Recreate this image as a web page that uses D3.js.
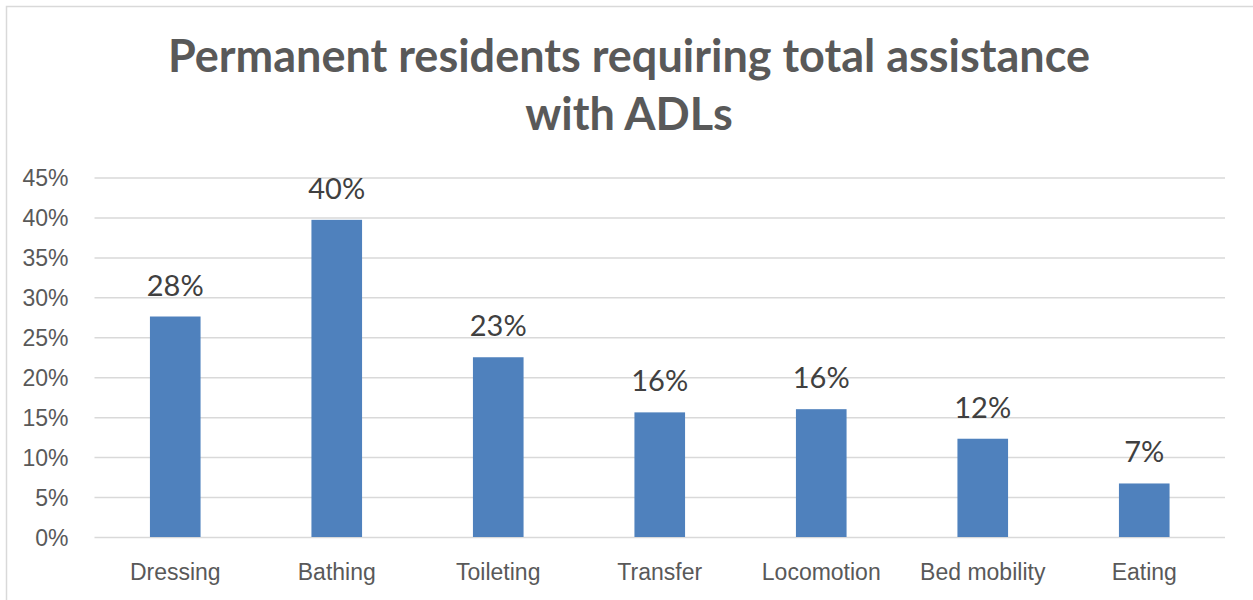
<!DOCTYPE html>
<html>
<head>
<meta charset="utf-8">
<script src="https://cdn.jsdelivr.net/npm/d3@7"></script>
<style>
  html, body { margin: 0; padding: 0; background: #fff; }
  svg { display: block; font-family: Lato, "Open Sans", sans-serif; }
</style>
</head>
<body>
<svg id="chart" width="1253" height="600"></svg>
<script>
// ADL categories and share of permanent residents needing total assistance (%)
const categories = ["Dressing", "Bathing", "Toileting", "Transfer", "Locomotion", "Bed mobility", "Eating"];
const values = [27.6, 39.7, 22.5, 15.6, 16.0, 12.3, 6.7];
const yTicks = [0, 5, 10, 15, 20, 25, 30, 35, 40, 45];
const titleLines = ["Permanent residents requiring total assistance", "with ADLs"];

const svg = d3.select("#chart");
const W = 1253, H = 600;
const plot = { left: 94.5, right: 1225, top: 177.5, bottom: 537 };

// chart frame
svg.append("rect")
  .attr("x", 6.5).attr("y", 6.5)
  .attr("width", W + 20).attr("height", H + 20)
  .attr("fill", "#fff").attr("stroke", "#d9d9d9").attr("stroke-width", 1.5);

const x = d3.scaleBand().domain(categories).range([plot.left, plot.right]).padding(0);
const y = d3.scaleLinear().domain([0, 45]).range([plot.bottom, plot.top]);
const barW = x.bandwidth() / 3.19;

// gridlines and y-axis labels
const yAxis = d3.axisLeft(y).tickValues(yTicks)
  .tickSize(-(plot.right - plot.left)).tickPadding(26)
  .tickFormat(d => d + "%");
const gy = svg.append("g").attr("transform", `translate(${plot.left},0)`).call(yAxis);
gy.select(".domain").remove();
gy.selectAll(".tick line").attr("stroke", "#d9d9d9").attr("stroke-width", 1.5);
gy.selectAll(".tick text").attr("fill", "#595959").style("font-size", "23px").attr("dy", "0.35em");

// x-axis category labels
const xAxis = d3.axisBottom(x).tickSize(0).tickPadding(27);
const gx = svg.append("g").attr("transform", `translate(0,${plot.bottom})`).call(xAxis);
gx.select(".domain").remove();
gx.selectAll(".tick text").attr("fill", "#595959").style("font-size", "23px");

// bars
svg.append("g").selectAll("rect")
  .data(values)
  .join("rect")
  .attr("x", (d, i) => x(categories[i]) + (x.bandwidth() - barW) / 2)
  .attr("y", d => y(d))
  .attr("width", barW)
  .attr("height", d => y(0) - y(d))
  .attr("fill", "#4f81bd");

// value labels
svg.append("g").selectAll("text")
  .data(values)
  .join("text")
  .attr("x", (d, i) => x(categories[i]) + x.bandwidth() / 2)
  .attr("y", d => y(d) - 21)
  .attr("text-anchor", "middle")
  .attr("fill", "#404040")
  .style("font-size", "29px")
  .text(d => Math.round(d) + "%");

// title
svg.append("g").selectAll("text")
  .data(titleLines)
  .join("text")
  .attr("x", 629)
  .attr("y", (d, i) => 72 + i * 58)
  .attr("text-anchor", "middle")
  .attr("fill", "#595959")
  .style("font-size", "45px")
  .style("font-weight", "bold")
  .text(d => d);
</script>
</body>
</html>
